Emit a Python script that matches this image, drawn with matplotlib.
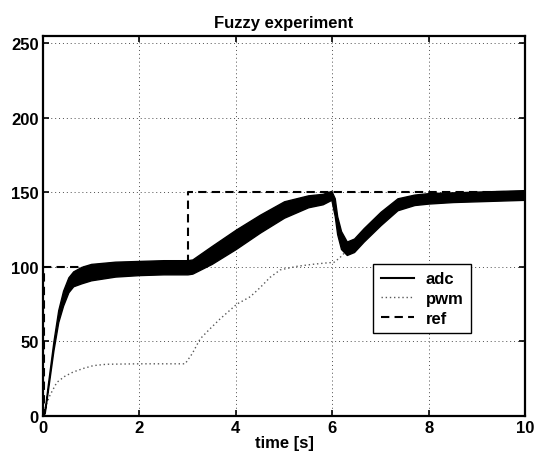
import matplotlib
matplotlib.use("Agg")
import matplotlib.pyplot as plt
from matplotlib.lines import Line2D

plt.rcParams['font.family'] = ['Liberation Sans', 'DejaVu Sans']
plt.rcParams['font.weight'] = 'bold'
plt.rcParams['axes.titleweight'] = 'bold'
plt.rcParams['axes.labelweight'] = 'bold'

# ---- data ----
adc_t = [0, 0.04, 0.1, 0.22, 0.32, 0.42, 0.53, 0.63, 0.8, 1.0, 1.5, 2.0, 2.5, 3.0, 3.1,
         3.5, 4.0, 4.5, 5.0, 5.5, 5.8, 5.98, 6.05, 6.1, 6.18, 6.3, 6.45, 6.65, 7.0, 7.35,
         7.7, 8.0, 8.5, 9.0, 9.5, 10.0]
adc_lo = [0, 2, 16, 44, 63, 74, 83, 87, 89, 91, 93.5, 94.5, 95, 95, 95.5,
          102, 112, 123, 133, 140, 142, 145, 134, 122, 112, 108, 110, 117, 128, 138,
          141.5, 142.5, 143.5, 144, 144.5, 145]
adc_hi = [0, 4, 20, 50, 71, 84, 93, 97, 100, 102, 103.5, 104, 104.5, 104.5, 105,
          114, 125, 135, 144, 148, 149, 151, 146, 134, 124, 117, 119, 126, 137, 146,
          148.5, 149.5, 150, 150.5, 151, 151.5]

pwm_t = [0, 0.04, 0.15, 0.29, 0.45, 0.63, 0.85, 1.05, 1.32, 2.0, 2.5, 2.95, 3.1, 3.26,
         3.45, 3.67, 4.02, 4.3, 4.5, 4.71, 4.92, 5.27, 5.61, 5.89, 6.03, 6.15, 6.3, 6.65,
         7.0, 7.35, 7.7, 8.0, 9.0, 10.0]
pwm_v = [0, 5, 14, 22.5, 26.5, 29.5, 32, 33.8, 34.7, 35, 35, 35, 42, 51.7,
         58, 65, 75, 80, 86, 93, 98, 100.4, 101.8, 102.7, 103, 106, 111, 120,
         131, 140, 144, 145, 146, 147]

ref_t = [0, 0.02, 0.02, 3.0, 3.0, 10.0]
ref_v = [0, 0, 100, 100, 150, 150]

x_ticks = [0, 2, 4, 6, 8, 10]
y_ticks = [0, 50, 100, 150, 200, 250]

# ---- figure ----
fig = plt.figure(figsize=(5.35, 4.6), dpi=100)
ax = fig.add_axes([0.080, 0.0935, 0.902, 0.8265])

ax.plot(pwm_t, pwm_v, color='0.35', linestyle=(0, (1, 2)), lw=1.0, zorder=2)
ax.fill_between(adc_t, adc_lo, adc_hi, color='k', lw=1.0, edgecolor='k', zorder=3)
ax.plot(ref_t, ref_v, color='k', linestyle=(0, (4, 2.5)), lw=1.5, zorder=4)

ax.set_xlim(0, 10)
ax.set_ylim(0, 255)
ax.set_xticks(x_ticks)
ax.set_yticks(y_ticks)
ax.grid(True, color='0.3', linestyle=(0, (1, 3)), lw=0.7)
ax.tick_params(direction='in', length=4, width=1.2, top=True, right=True,
               labelsize=12, pad=3)
for s in ax.spines.values():
    s.set_linewidth(1.6)

ax.set_title('Fuzzy experiment', fontsize=12, pad=6)
ax.set_xlabel('time [s]', fontsize=12, labelpad=0)

handles = [Line2D([], [], color='k', lw=1.5),
           Line2D([], [], color='0.35', linestyle=(0, (1, 2)), lw=1.0),
           Line2D([], [], color='k', linestyle=(0, (4, 2.5)), lw=1.5)]
leg = ax.legend(handles, ['adc', 'pwm', 'ref'], loc='upper left',
                bbox_to_anchor=(0.685, 0.400), fontsize=12, frameon=True,
                fancybox=False, framealpha=1, edgecolor='k', handlelength=2.0,
                handletextpad=0.7, borderpad=0.45, labelspacing=0.28,
                borderaxespad=0)
leg.get_frame().set_linewidth(1.0)

fig.savefig('out.png', dpi=100)
